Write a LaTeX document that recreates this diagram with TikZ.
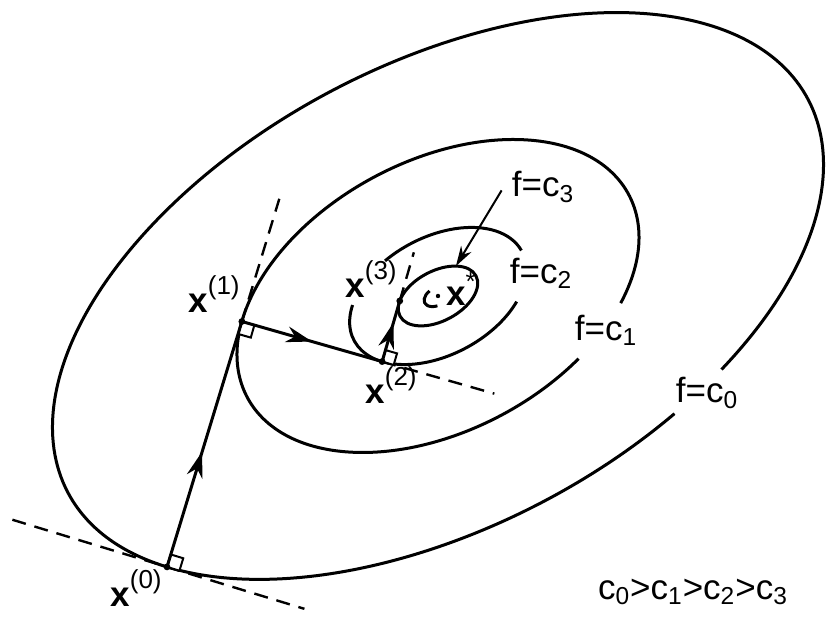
\documentclass[tikz,border=0pt]{standalone}
\usepackage{fontspec}
\setmainfont{Liberation Sans}
\usepackage{tikz}
\usetikzlibrary{positioning,arrows.meta,calc,decorations.markings}

\newcommand{\itr}[1]{\textbf{x}\raisebox{0.5em}{\fontsize{13}{13}\selectfont(#1)}}
\newcommand{\lev}[1]{f=c\textsubscript{#1}}

\begin{document}
\begin{tikzpicture}[x=0.5pt,y=0.5pt,line width=1.5pt,font=\fontsize{17.5}{20}\selectfont,
    descent/.style={line width=1.5pt,postaction={decorate},
      decoration={markings,mark=at position #1 with {\arrow{Stealth[length=13pt,width=8pt]}}}}]
  \tikzstyle{contour}=[line width=1.5pt]
  \tikzstyle{tangent}=[line width=1.2pt,dash pattern=on 7pt off 4.5pt]
  \tikzstyle{rightangle}=[line width=1pt,fill=white]
  \tikzstyle{pointer}=[line width=1pt,-{Stealth[length=10pt,width=6pt]},shorten <=2pt]
  \useasboundingbox (0,0) rectangle (827,619);

  % level curves around the minimum
  \begin{scope}[shift={(438,323)},rotate=28]
    \draw[contour] (-59:419 and 231) arc[start angle=-59,end angle=291.5,x radius=419,y radius=231];
    \coordinate (x0) at (209:419 and 231);

    \draw[contour] (-43:216 and 135) arc[start angle=-43,end angle=296,x radius=216,y radius=135];
    \coordinate (x1) at (149:216 and 135);

    \draw[contour] (1:95 and 59) arc[start angle=1,end angle=108.6,x radius=95,y radius=59];
    \draw[contour] (147:95 and 59) arc[start angle=147,end angle=314.7,x radius=95,y radius=59];
    \coordinate (x2) at (212.5:95 and 59);

    \draw[contour] (0,0) ellipse[x radius=43,y radius=25];
    \coordinate (x3) at (147:43 and 25);
    \coordinate (c3top) at (46:43 and 25);

    \draw[contour] (110:15 and 9) arc[start angle=110,end angle=250,x radius=15,y radius=9];
    \coordinate (xs) at (0,0);
  \end{scope}

  \draw[tangent] ($(x0)!0.63!90:(x1)$) -- ($(x0)!0.56!-90:(x1)$);
  \draw[tangent] (x1) -- ($(x0)!1.5!(x1)$);
  \draw[tangent] (x2) -- ($(x1)!1.8!(x2)$);
  \draw[tangent] (x3) -- ($(x2)!1.8!(x3)$);

  \draw[rightangle] (x0) -- ($(x0)!6.5pt!(x1)$) -- ($(x0)!9.2pt!-45:(x1)$) -- ($(x0)!6.5pt!-90:(x1)$) -- cycle;
  \draw[rightangle] (x1) -- ($(x1)!6.5pt!(x2)$) -- ($(x1)!9.2pt!-45:(x2)$) -- ($(x1)!6.5pt!-90:(x2)$) -- cycle;
  \draw[rightangle] (x2) -- ($(x2)!6pt!(x3)$) -- ($(x2)!8.5pt!-45:(x3)$) -- ($(x2)!6pt!-90:(x3)$) -- cycle;

  \draw[descent=0.47] (x0) -- (x1);
  \draw[descent=0.5] (x1) -- (x2);
  \draw[descent=0.64] (x2) -- (x3);

  \fill (x0) circle (1.7pt);
  \fill (x1) circle (1.7pt);
  \fill (x2) circle (1.7pt);
  \fill (x3) circle (1.7pt);
  \fill (xs) circle (1.1pt);

  \node (lx0) at (136,31) {\itr{0}};
  \node (lx1) at (214,325) {\itr{1}};
  \node (lx2) at (391,234) {\itr{2}};
  \node (lx3) at (371,340) {\itr{3}};
  \node (lxs) at (461,330) {\textbf{x}\raisebox{0.45em}{\fontsize{13}{13}\selectfont*}};

  \node (lc0) at (707,226) {\lev{0}};
  \node (lc1) at (606,289) {\lev{1}};
  \node (lc2) at (541,346) {\lev{2}};
  \node (lc3) at (543,432) {\lev{3}};
  \draw[pointer] (lc3.west) -- (c3top);

  \node (order) at (693,27) {c\textsubscript{0}>c\textsubscript{1}>c\textsubscript{2}>c\textsubscript{3}};
\end{tikzpicture}
\end{document}
